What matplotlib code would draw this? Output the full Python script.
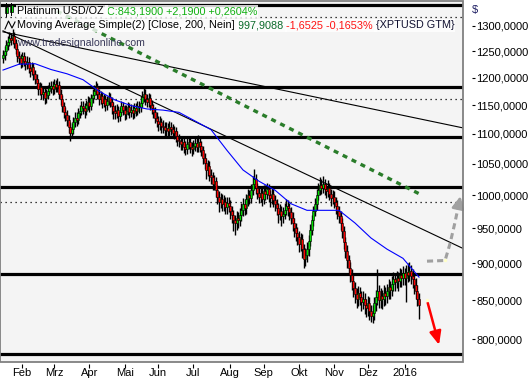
import numpy as np
import pandas as pd
import matplotlib
matplotlib.use('Agg')
import matplotlib.pyplot as plt
from matplotlib.patches import Rectangle
from matplotlib.lines import Line2D
from matplotlib.text import Annotation
from matplotlib.ticker import FixedLocator, NullLocator

plt.rcParams['font.family'] = ['Liberation Sans', 'DejaVu Sans']

# 1. Dados (Platinum USD/OZ, diário)
first_open = 1236
closes = [1243, 1250, 1262, 1268, 1276, 1272, 1280, 1266, 1255, 1240,
          1236, 1228, 1240, 1232, 1225, 1230, 1218, 1212, 1220, 1206,
          1198, 1190, 1178, 1182, 1170, 1174, 1162, 1168, 1176, 1180,
          1184, 1178, 1188, 1182, 1186, 1170, 1160, 1148, 1138, 1132,
          1124, 1112, 1102, 1108, 1120, 1128, 1124, 1136, 1140, 1148,
          1144, 1140, 1150, 1156, 1148, 1162, 1168, 1176, 1182, 1170,
          1160, 1166, 1154, 1160, 1150, 1158, 1164, 1155, 1148, 1140,
          1136, 1142, 1130, 1138, 1148, 1142, 1135, 1140, 1146, 1138,
          1142, 1136, 1144, 1140, 1148, 1146, 1154, 1164, 1170, 1160,
          1156, 1162, 1150, 1144, 1138, 1128, 1122, 1116, 1120, 1114,
          1112, 1106, 1110, 1104, 1112, 1108, 1102, 1104, 1096, 1090,
          1088, 1082, 1086, 1078, 1074, 1082, 1086, 1078, 1074, 1080,
          1084, 1078, 1086, 1080, 1072, 1060, 1052, 1040, 1046, 1032,
          1028, 1018, 1022, 1008, 998, 990, 994, 986, 990, 982,
          988, 984, 976, 970, 962, 958, 966, 962, 970, 978,
          986, 980, 994, 1000, 996, 1008, 1018, 1026, 1012, 1004,
          998, 1004, 994, 1006, 1002, 1010, 1000, 996, 1002, 992,
          986, 980, 972, 976, 968, 972, 978, 984, 980, 974,
          966, 958, 950, 944, 938, 928, 934, 920, 906, 912,
          920, 932, 948, 962, 976, 986, 1000, 1008, 1016, 1012,
          1018, 1010, 1006, 1012, 1002, 996, 998, 990, 984, 976,
          968, 958, 946, 930, 918, 904, 894, 884, 876, 866,
          858, 852, 860, 854, 848, 852, 844, 840, 846, 836,
          830, 834, 846, 854, 862, 850, 856, 852, 860, 856,
          862, 868, 864, 872, 878, 874, 880, 876, 884, 880,
          886, 880, 888, 884, 890, 882, 878, 870, 862, 852, 843.19]
highs = [1253, 1260, 1272, 1280, 1288, 1286, 1294, 1288, 1274, 1264,
         1250, 1244, 1249, 1248, 1240, 1240, 1238, 1226, 1230, 1228,
         1214, 1207, 1198, 1192, 1190, 1184, 1182, 1178, 1186, 1192,
         1194, 1193, 1198, 1196, 1200, 1194, 1178, 1168, 1156, 1147,
         1141, 1132, 1120, 1118, 1129, 1138, 1137, 1145, 1150, 1158,
         1157, 1153, 1159, 1166, 1164, 1170, 1179, 1186, 1194, 1190,
         1179, 1176, 1174, 1170, 1168, 1167, 1174, 1172, 1164, 1156,
         1150, 1152, 1149, 1147, 1158, 1156, 1150, 1150, 1156, 1154,
         1151, 1150, 1154, 1153, 1157, 1158, 1166, 1176, 1182, 1178,
         1170, 1172, 1170, 1159, 1152, 1146, 1137, 1130, 1130, 1128,
         1124, 1120, 1120, 1118, 1122, 1121, 1116, 1114, 1112, 1104,
         1100, 1096, 1096, 1094, 1087, 1092, 1096, 1094, 1086, 1090,
         1094, 1096, 1098, 1094, 1088, 1080, 1068, 1060, 1056, 1054,
         1042, 1036, 1032, 1029, 1016, 1006, 1004, 1002, 1000, 998,
         998, 997, 992, 984, 978, 970, 976, 974, 980, 988,
         996, 994, 1002, 1010, 1009, 1018, 1030, 1042, 1034, 1020,
         1014, 1014, 1012, 1016, 1016, 1020, 1018, 1008, 1012, 1010,
         1000, 994, 988, 986, 984, 982, 988, 994, 992, 988,
         982, 974, 966, 958, 952, 946, 944, 942, 928, 922,
         930, 940, 956, 970, 984, 996, 1010, 1020, 1028, 1026,
         1030, 1026, 1020, 1024, 1020, 1010, 1008, 1006, 998, 992,
         984, 976, 966, 954, 938, 926, 912, 902, 892, 884,
         874, 866, 869, 868, 862, 862, 860, 852, 856, 854,
         844, 844, 854, 864, 892, 870, 866, 864, 870, 868,
         872, 878, 876, 882, 888, 886, 890, 888, 894, 892,
         896, 894, 898, 900, 902, 898, 892, 886, 880, 870, 860]
lows = [1227, 1234, 1242, 1253, 1260, 1262, 1264, 1256, 1244, 1230,
        1226, 1218, 1220, 1222, 1215, 1216, 1208, 1201, 1204, 1196,
        1188, 1180, 1168, 1168, 1160, 1159, 1151, 1153, 1160, 1168,
        1171, 1168, 1170, 1173, 1174, 1161, 1150, 1138, 1128, 1122,
        1114, 1102, 1088, 1092, 1100, 1112, 1114, 1116, 1127, 1132,
        1134, 1128, 1132, 1142, 1138, 1141, 1154, 1160, 1168, 1160,
        1150, 1151, 1144, 1146, 1140, 1142, 1150, 1146, 1134, 1126,
        1126, 1128, 1120, 1122, 1130, 1133, 1124, 1126, 1132, 1128,
        1129, 1126, 1128, 1131, 1132, 1136, 1138, 1146, 1156, 1150,
        1146, 1147, 1141, 1134, 1128, 1118, 1112, 1104, 1106, 1102,
        1102, 1096, 1096, 1094, 1096, 1098, 1092, 1091, 1086, 1080,
        1078, 1072, 1073, 1068, 1064, 1066, 1074, 1068, 1062, 1066,
        1071, 1069, 1070, 1070, 1062, 1050, 1041, 1026, 1031, 1022,
        1018, 1008, 1008, 998, 986, 974, 980, 976, 976, 971,
        972, 974, 964, 958, 946, 940, 948, 951, 954, 961,
        968, 970, 972, 984, 986, 988, 1000, 1010, 1002, 994,
        988, 989, 984, 986, 992, 994, 990, 982, 986, 982,
        976, 970, 958, 962, 954, 958, 964, 970, 968, 962,
        956, 946, 938, 932, 926, 916, 918, 908, 893, 896,
        902, 910, 924, 940, 954, 968, 978, 992, 1000, 1002,
        1004, 1000, 996, 998, 992, 984, 986, 980, 972, 964,
        958, 948, 936, 920, 908, 894, 884, 874, 864, 854,
        846, 840, 842, 844, 836, 838, 832, 828, 830, 824,
        822, 820, 824, 836, 844, 840, 840, 838, 842, 844,
        846, 852, 852, 856, 862, 862, 866, 862, 868, 868,
        870, 870, 848, 874, 876, 872, 866, 858, 852, 842, 826]

# Média móvel 200 (lida a cada 10 barras)
ma_step = 10
ma200 = [1214, 1225, 1226, 1215, 1207, 1196, 1175, 1159, 1149, 1143,
         1141, 1137, 1122, 1107, 1072, 1040, 1022, 1008, 987, 977,
         977, 977, 958, 936, 920, 907, 881]

# Linhas de suporte / resistência
levels_thick = [1343, 1183, 1094, 1013, 885, 782]
levels_dotted = [1318, 1160, 989]

# Linhas de tendência (índice da barra, preço)
trend_x = [[0, 287.5], [0, 287.5]]
trend_y = [[1288, 1110], [1290, 921]]
green_x = [33.75, 262]
green_y = [1330, 1000]
gray_x = [265, 276.3, 279.4, 282.5, 284.4, 286.3]
gray_y = [903, 904, 928, 959, 981, 1003]
red_x = [265, 273]
red_y = [850, 790]

yticks = [800, 850, 900, 950, 1000, 1050, 1100, 1150, 1200, 1250, 1300]
month_names = {1: '2016', 2: 'Feb', 3: 'Mrz', 4: 'Apr', 5: 'Mai', 6: 'Jun',
               7: 'Jul', 8: 'Aug', 9: 'Sep', 10: 'Okt', 11: 'Nov', 12: 'Dez'}

# 2. Prepara arrays
c = np.array(closes, dtype=float)
o = np.concatenate([[first_open], c[:-1]])
h = np.array(highs, dtype=float)
l = np.array(lows, dtype=float)
n = len(c)
idx = np.arange(n)
dates = pd.bdate_range('2015-01-15', periods=n)

W, H = 529, 380
def fx(px):
    return px / W
def fy(py):
    return 1 - py / H

# 3. Figura
fig = plt.figure(figsize=(W / 100, H / 100), dpi=100)
ax = fig.add_axes([0, 18 / H, 463 / W, 361 / H])
ax.set_facecolor('#f4f4f4')

for v in levels_thick:
    ax.axhline(v, color='black', lw=2.3, zorder=2)
for v in levels_dotted:
    ax.axhline(v, color='black', lw=0.9, ls=(0, (1, 3)), zorder=2)

for tx, ty in zip(trend_x, trend_y):
    ax.plot(tx, ty, color='black', lw=0.8, zorder=2)

ax.plot(green_x, green_y, color='#2a7d2a', lw=2.4, ls=(0, (1.5, 1.5)), zorder=2)

# candles
ax.vlines(idx, l, h, color='black', lw=1.0, zorder=3)
up = c >= o
ax.bar(idx[up], (c - o)[up], bottom=o[up], width=1.3, color='#00e000',
       edgecolor='black', lw=0.4, zorder=4)
ax.bar(idx[~up], (o - c)[~up], bottom=c[~up], width=1.3, color='#ff0000',
       edgecolor='black', lw=0.4, zorder=4)

ax.plot(idx[::ma_step], ma200, color='#0000ff', lw=0.8, zorder=5)

# setas
ax.plot(gray_x[:-1], gray_y[:-1], color='#a0a0a0', lw=2.2, ls=(0, (2, 1.3)), zorder=5)
ax.annotate('', xy=(gray_x[-1], gray_y[-1]), xytext=(gray_x[-2], gray_y[-2]),
            arrowprops=dict(arrowstyle='-|>,head_width=0.35,head_length=0.7',
                            color='#a0a0a0', lw=2), zorder=5)
ax.annotate('', xy=(red_x[1], red_y[1]), xytext=(red_x[0], red_y[0]),
            arrowprops=dict(arrowstyle='-|>,head_width=0.35,head_length=0.8',
                            color='#ff0000', lw=1.8), zorder=5)
ax.plot([gray_x[1], red_x[0]], [gray_y[1], red_y[0]], ls='none', marker='o',
        ms=2.5, mfc='#ffffc8', mec='none', zorder=6)

# eixos
ax.set_yscale('log')
ax.set_ylim(772.5, 1351)
ax.set_xlim(-1.875, 287.5)
ax.yaxis.set_major_locator(FixedLocator(yticks))
ax.yaxis.set_minor_locator(NullLocator())
ax.set_yticklabels([f'{v},0000' for v in yticks])
ax.yaxis.tick_right()

first_days = [i for i in range(1, n) if dates[i].month != dates[i - 1].month]
ax.set_xticks(first_days)
ax.set_xticklabels([month_names[dates[i].month] for i in first_days], ha='left')

for s in ax.spines.values():
    s.set_visible(False)
ax.spines['right'].set_position(('outward', 6.5))
ax.spines['bottom'].set_position(('outward', 1.5))
ax.tick_params(axis='y', direction='out', length=2.2, width=0.8, pad=1, labelsize=8)
ax.tick_params(axis='x', direction='out', length=3, width=0.8, pad=0, labelsize=8)
ax.add_patch(Rectangle((0, 0), 1, 1, transform=ax.transAxes, fill=False,
                       ec='#808080', lw=1.3, clip_on=False, zorder=10))

fig.text(fx(472), fy(10), '$', fontsize=8, color='#1a1a60', va='center')

# legenda em texto (pedaços coloridos encadeados)
box = dict(boxstyle='square,pad=0.12', fc='white', ec='none', alpha=0.8)

def chain_text(pieces, x, y):
    prev = fig.text(fx(x), fy(y), pieces[0][0], color=pieces[0][1], fontsize=7.8,
                    va='baseline', bbox=box, zorder=20)
    for txt, col in pieces[1:]:
        prev = fig.add_artist(Annotation(
            txt, xy=(1, 0), xycoords=prev, va='bottom', ha='left', color=col,
            fontsize=7.8, bbox=box, zorder=20, annotation_clip=False))
    return prev

chain_text([('Platinum USD/OZ ', 'black'),
            ('C:843,1900 +2,1900 +0,2604%', '#10b010')], 17, 14.5)
chain_text([('Moving Average Simple(2) [Close, 200, Nein] ', 'black'),
            ('997,9088 ', '#0a6a2a'),
            ('-1,6525 -0,1653% ', '#ff1010'),
            ('{XPTUSD GTM}', '#101030')], 17, 28.5)
fig.text(fx(17), fy(46), 'www.tradesignalonline.com', fontsize=7.6,
         color='#3a3a5a', va='baseline', zorder=20)

# ícones da legenda
fig.add_artist(Line2D([fx(6), fx(6)], [fy(3), fy(16)], color='black', lw=0.7))
fig.add_artist(Line2D([fx(11), fx(11)], [fy(3), fy(15)], color='black', lw=0.7))
fig.add_artist(Rectangle((fx(4.5), fy(13)), 3 / W, 6 / H, fc='#00d800', ec='black',
                         lw=0.5, transform=fig.transFigure))
fig.add_artist(Rectangle((fx(9.5), fy(12)), 3 / W, 7 / H, fc='#00d800', ec='black',
                         lw=0.5, transform=fig.transFigure))
fig.add_artist(Line2D([fx(5), fx(8.5), fx(12), fx(15)], [fy(29), fy(21), fy(28), fy(22)],
                      color='black', lw=0.8))

fig.savefig('out.png', dpi=100)
